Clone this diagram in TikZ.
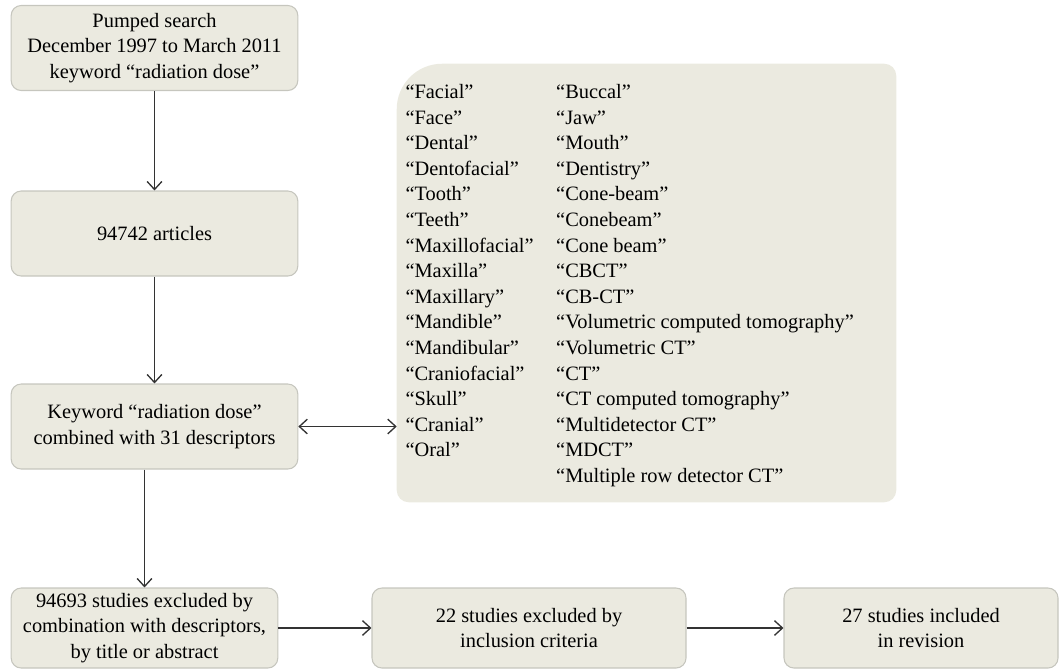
\documentclass[tikz,border=0pt]{standalone}
\usepackage{fontspec}
\setmainfont{Liberation Serif}
\usepackage{tikz}
\usetikzlibrary{matrix,arrows.meta}
\definecolor{boxfill}{RGB}{235,234,224}
\definecolor{boxline}{RGB}{198,198,190}
\definecolor{flowline}{RGB}{51,51,51}

\begin{document}
\begin{tikzpicture}[x=0.75pt,y=-0.75pt,
    font=\fontsize{15.3}{19.2}\selectfont,
    >={Straight Barb[length=6pt,width=11pt]},
    stage/.style={draw=boxline, line width=0.8pt, fill=boxfill, rounded corners=7.5pt,
      align=center, inner sep=0pt, minimum width=215pt, minimum height=63.75pt},
    flow/.style={color=flowline, line width=1pt}]
  \useasboundingbox (0,0) rectangle (1060,669);

  % left column of stages
  \node (pumped)   [stage] at (154.5,48)
    {Pumped search\\December 1997 to March 2011\\keyword “radiation dose”};
  \node (articles) [stage] at (154.5,233.5) {94742 articles};
  \node (keyword)  [stage] at (154.5,426.5)
    {Keyword “radiation dose”\\combined with 31 descriptors};

  % bottom row
  \node (excluded) [stage, minimum width=200pt, minimum height=60pt] at (144.5,628)
    {94693 studies excluded by\\combination with descriptors,\\by title or abstract};
  \node (criteria) [stage, minimum width=235.5pt, minimum height=60pt] at (529,628)
    {22 studies excluded by\\inclusion criteria};
  \node (included) [stage, minimum width=205.5pt, minimum height=60pt] at (921,628)
    {27 studies included\\in revision};

  % descriptors panel
  \node (desc) [inner sep=0pt, minimum width=374.25pt, minimum height=328.5pt] at (646.5,283) {};
  \fill[boxfill] (desc.north) [rounded corners=9pt] -- (desc.north east) -- (desc.south east)
    -- (desc.south west) [rounded corners=34pt] -- (desc.north west) [rounded corners=19pt] -- cycle;
  \matrix (terms) [matrix of nodes, anchor=north west, inner sep=0pt, column sep=0pt, row sep=0pt,
    nodes={anchor=base west, inner sep=0pt, text height=13.6pt, text depth=5.6pt},
    column 1/.style={nodes={text width=113pt}}] at (405,80)
  {
    “Facial”       & “Buccal” \\
    “Face”         & “Jaw” \\
    “Dental”       & “Mouth” \\
    “Dentofacial”  & “Dentistry” \\
    “Tooth”        & “Cone-beam” \\
    “Teeth”        & “Conebeam” \\
    “Maxillofacial” & “Cone beam” \\
    “Maxilla”      & “CBCT” \\
    “Maxillary”    & “CB-CT” \\
    “Mandible”     & “Volumetric computed tomography” \\
    “Mandibular”   & “Volumetric CT” \\
    “Craniofacial” & “CT” \\
    “Skull”        & “CT computed tomography” \\
    “Cranial”      & “Multidetector CT” \\
    “Oral”         & “MDCT” \\
                   & “Multiple row detector CT” \\
  };

  \coordinate (drop) at (keyword.south -| excluded.north);
  \path[->, flow]
  (pumped)   edge (articles)
  (articles) edge (keyword)
  (drop)     edge (excluded)
  (excluded) edge (criteria)
  (criteria) edge (included)
  ;
  \path[<->, flow] (keyword) edge (keyword -| desc.west);
\end{tikzpicture}
\end{document}
